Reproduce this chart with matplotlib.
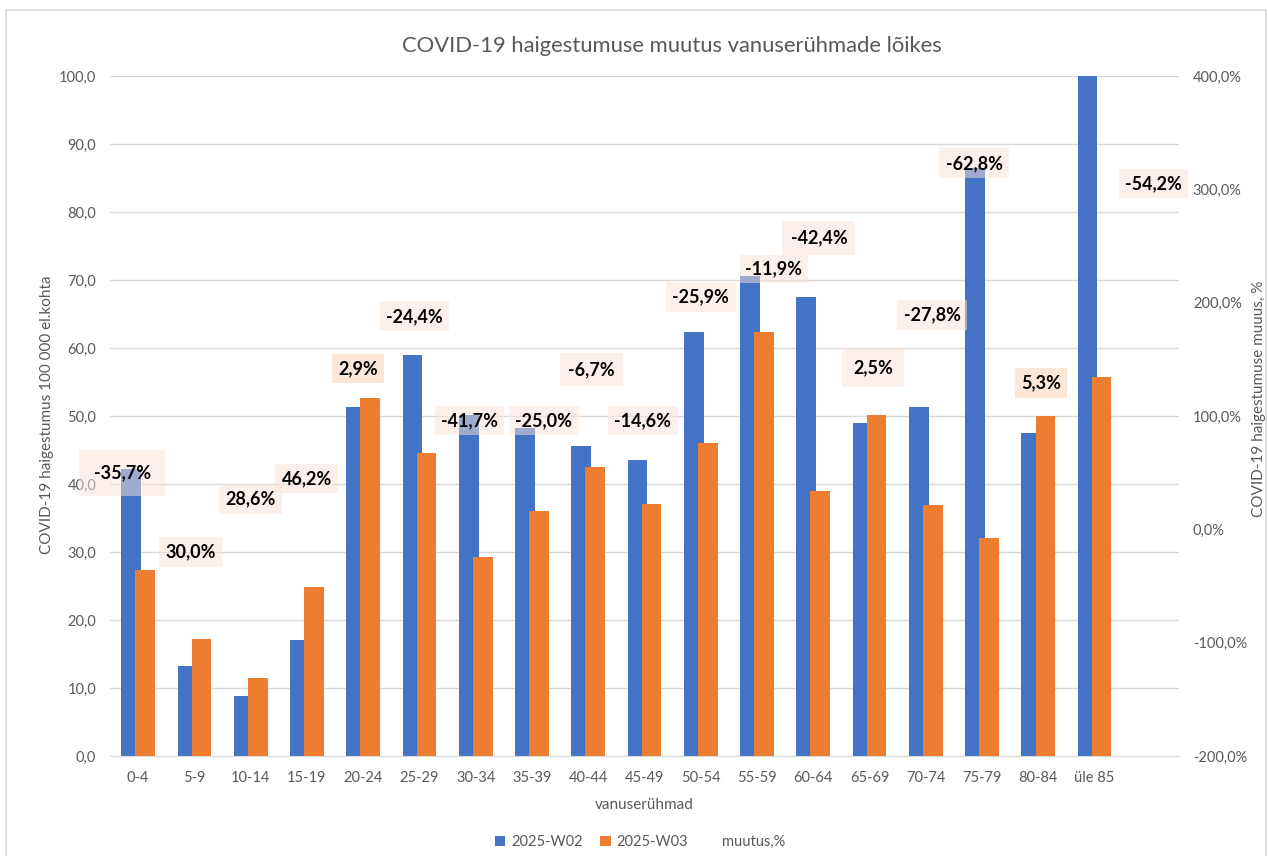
import matplotlib
matplotlib.use("Agg")
import matplotlib.pyplot as plt
import numpy as np
from matplotlib.patches import Rectangle
from matplotlib.ticker import FuncFormatter

# data
groups = ["0-4", "5-9", "10-14", "15-19", "20-24", "25-29", "30-34", "35-39", "40-44",
          "45-49", "50-54", "55-59", "60-64", "65-69", "70-74", "75-79", "80-84", "üle 85"]
w02 = [42.2, 13.2, 8.8, 17.1, 51.3, 58.9, 50.1, 48.2, 45.6,
       43.5, 62.3, 70.6, 67.5, 48.9, 51.3, 86.4, 47.5, 122.0]
w03 = [27.3, 17.2, 11.4, 24.9, 52.7, 44.6, 29.3, 36.0, 42.5,
       37.1, 46.1, 62.3, 38.9, 50.1, 36.9, 32.1, 50.0, 55.8]
pct = [-35.7, 30.0, 28.6, 46.2, 2.9, -24.4, -41.7, -25.0, -6.7,
       -14.6, -25.9, -11.9, -42.4, 2.5, -27.8, -62.8, 5.3, -54.2]

# where the (hand-placed) percent labels sit: x shift in categories, y on the % axis
label_dx = [-0.28, -0.07, 0.0, 0.0, -0.09, -0.09, -0.11, 0.21, 0.06,
            -0.03, 0.0, 0.30, 0.10, 0.06, 0.11, -0.14, 0.05, 1.05]
label_y = [50, -20, 27, 45, 142, 188, 96, 96, 141,
           96, 205, 230, 257, 143, 189, 323, 129, 305]
label_pad = [0.8, 0.35, 0.35, 0.35, 0.35, 0.35, 0.35, 0.35, 0.45,
             0.35, 0.35, 0.3, 0.45, 0.6, 0.35, 0.35, 0.35, 0.35]
label_strong = [4, 16]

plt.rcParams["font.family"] = ["Lato", "DejaVu Sans"]
GREY = "#595959"
W, H = 1268, 856

fig = plt.figure(figsize=(W / 100, H / 100), dpi=100)
ax = fig.add_axes([110 / W, 100 / H, 1069 / W, 680 / H])

x = np.arange(len(groups))
ax.bar(x - 0.125, w02, width=0.35, color="#4472C4", label="2025-W02", zorder=2)
ax.bar(x + 0.125, w03, width=0.35, color="#ED7D31", label="2025-W03", zorder=3)

ax.set_xlim(-0.5, len(groups) + 0.5)
ax.set_ylim(0, 100)
ax.set_yticks(np.arange(0, 101, 10))
ax.yaxis.set_major_formatter(FuncFormatter(lambda v, p: f"{v:.1f}".replace(".", ",")))
ax.set_xticks(x)
ax.set_xticklabels(groups)
ax.yaxis.grid(True, color="#D9D9D9", lw=1)
ax.set_axisbelow(True)
for s in ["top", "left", "right"]:
    ax.spines[s].set_visible(False)
ax.spines["bottom"].set_color("#D9D9D9")
ax.tick_params(axis="both", length=0, colors=GREY, labelsize=10.5)
ax.tick_params(axis="y", pad=10)
ax.tick_params(axis="x", pad=11)
ax.set_xlabel("vanuserühmad", color=GREY, fontsize=11, labelpad=9)

ax2 = ax.twinx()
ax2.set_ylim(-200, 400)
ax2.set_yticks(np.arange(-200, 401, 100))
ax2.yaxis.set_major_formatter(FuncFormatter(lambda v, p: f"{v:.1f}%".replace(".", ",")))
for s in ax2.spines.values():
    s.set_visible(False)
ax2.tick_params(axis="y", length=0, colors=GREY, labelsize=10.5, pad=10)
ax2.plot(x, pct, lw=0, label="muutus,%")

for i, v in enumerate(pct):
    ax2.text(x[i] + label_dx[i], label_y[i], f"{v:.1f}%".replace(".", ","),
             ha="center", va="center", fontsize=13, fontweight="bold", color="black", zorder=5,
             bbox=dict(boxstyle=f"square,pad={label_pad[i]}", fc="#FBE5D6", ec="none",
                       alpha=0.95 if i in label_strong else 0.5))

fig.text(672 / W, 1 - 46 / H, "COVID-19 haigestumuse muutus vanuserühmade lõikes",
         ha="center", va="center", fontsize=15.8, color=GREY)
fig.text(47 / W, 1 - 415 / H, "COVID-19 haigestumus 100 000 el.kohta",
         ha="center", va="center", rotation=90, fontsize=11, color=GREY)
fig.text(1259 / W, 1 - 399 / H, "COVID-19 haigestumuse muuus, %",
         ha="center", va="center", rotation=90, fontsize=11, color=GREY)

h1, l1 = ax.get_legend_handles_labels()
h2, l2 = ax2.get_legend_handles_labels()
leg = fig.legend(h1 + h2, l1 + l2, loc="center", bbox_to_anchor=(640 / W, 1 - 842 / H),
                 ncol=3, frameon=False, fontsize=10.5, handlelength=0.7, handleheight=0.7,
                 handletextpad=0.4, columnspacing=1.2)
for t in leg.get_texts():
    t.set_color(GREY)

fig.add_artist(Rectangle((6 / W, -0.02), 1260 / W, 1.02 - 10 / H, transform=fig.transFigure,
                         fill=False, ec="#D9D9D9", lw=1.2))

fig.savefig("out.png", dpi=100)
